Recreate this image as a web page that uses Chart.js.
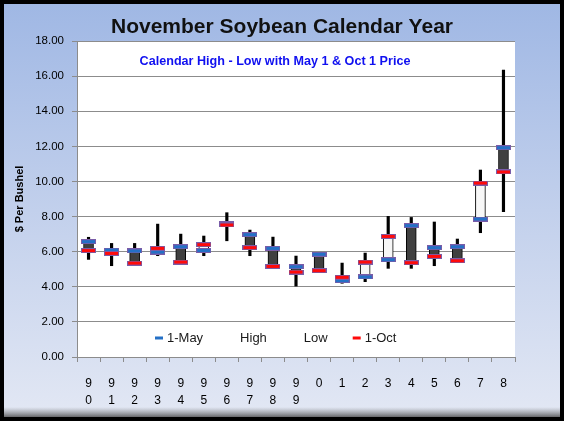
<!DOCTYPE html>
<html>
<head>
<meta charset="utf-8">
<script src="https://cdn.jsdelivr.net/npm/chart.js@4.4.0/dist/chart.umd.min.js"></script>
<style>
  html, body { margin: 0; padding: 0; background: #ffffff; }
  #wrap { width: 564px; height: 421px; position: relative; }
  canvas { display: block; }
</style>
</head>
<body>
<div id="wrap"><canvas id="c" width="564" height="421"></canvas></div>
<script>
// ---- data ----
const years = [["9","0"],["9","1"],["9","2"],["9","3"],["9","4"],["9","5"],["9","6"],["9","7"],["9","8"],["9","9"],
               "0","1","2","3","4","5","6","7","8"];
const may1  = [6.57, 6.09, 6.04, 5.98, 6.28, 6.07, 7.58, 6.97, 6.19, 5.14, 5.85, 4.35, 4.56, 5.54, 7.48, 6.23, 6.28, 7.86, 11.92];
const high  = [6.82, 6.47, 6.47, 7.57, 7.00, 6.89, 8.22, 7.23, 6.83, 5.75, 5.85, 5.35, 5.92, 8.01, 7.95, 7.69, 6.72, 10.65, 16.34];
const low   = [5.56, 5.20, 5.35, 5.77, 5.41, 5.77, 6.62, 5.77, 5.16, 4.04, 4.92, 4.20, 4.29, 5.05, 5.05, 5.20, 5.48, 7.08, 8.28];
const oct1  = [6.06, 5.90, 5.35, 6.19, 5.41, 6.40, 7.52, 6.23, 5.16, 4.84, 4.92, 4.54, 5.41, 6.87, 5.37, 5.73, 5.48, 9.91, 10.54];
const yTicks = [0, 2, 4, 6, 8, 10, 12, 14, 16, 18];

const FONT = "'Liberation Sans', Arial, sans-serif";
const BLUE = '#2470c6';
const RED = '#ff0a0a';
const EDGE = '#7a5ca8';

function markerImage(fill, h) {
  const c = document.createElement('canvas');
  c.width = 15; c.height = h;
  const x = c.getContext('2d');
  x.fillStyle = EDGE;
  x.fillRect(0, 0, 15, h);
  x.fillStyle = fill;
  x.fillRect(1, 1, 13, h - 2);
  return c;
}
const mayMark = markerImage(BLUE, 5);
const octMark = markerImage(RED, 5);

const boxData = may1.map((m, i) => [Math.min(m, oct1[i]), Math.max(m, oct1[i])]);
const boxFill = may1.map((m, i) => (m >= oct1[i] ? '#404040' : '#f7f7f7'));
const rangeData = high.map((h, i) => [low[i], h]);

const bgPlugin = {
  id: 'bg',
  beforeDraw(chart) {
    const ctx = chart.ctx, W = chart.width, H = chart.height;
    ctx.save();
    const g = ctx.createLinearGradient(0, 0, 0, H);
    g.addColorStop(0, '#9fb7e4');
    g.addColorStop(0.5, '#c2d0ec');
    g.addColorStop(1, '#e3e8f4');
    ctx.fillStyle = g;
    ctx.fillRect(0, 0, W, H);
    const s = ctx.createLinearGradient(0, H - 14, 0, H - 3);
    s.addColorStop(0, 'rgba(120,120,120,0)');
    s.addColorStop(1, 'rgba(60,60,60,0.85)');
    ctx.fillStyle = s;
    ctx.fillRect(0, H - 14, W, 11);
    const a = chart.chartArea;
    ctx.fillStyle = '#ffffff';
    ctx.fillRect(a.left, a.top, a.right - a.left, a.bottom - a.top);
    ctx.restore();
  },
  afterDraw(chart) {
    const ctx = chart.ctx, W = chart.width, H = chart.height;
    ctx.save();
    ctx.strokeStyle = '#000';
    ctx.lineWidth = 4;
    ctx.strokeRect(2, 2, W - 4, H - 4);
    // subtitle inside plot
    ctx.font = 'bold 12.6px ' + FONT;
    ctx.fillStyle = '#1010f0';
    ctx.textAlign = 'center';
    ctx.textBaseline = 'middle';
    ctx.fillText('Calendar High - Low with May 1 & Oct 1 Price', 275, 62);
    // legend inside plot
    const items = [
      { t: '1-May', c: BLUE }, { t: 'High', c: null }, { t: 'Low', c: null }, { t: '1-Oct', c: RED }
    ];
    ctx.font = '13px ' + FONT;
    ctx.textAlign = 'left';
    let x = 155;
    const y = 338;
    items.forEach(it => {
      if (it.c) { ctx.fillStyle = it.c; ctx.fillRect(x, y - 1.5, 8, 3); }
      ctx.fillStyle = '#1a1a1a';
      ctx.fillText(it.t, x + 12, y);
      x += 12 + ctx.measureText(it.t).width + 25;
    });
    ctx.restore();
  }
};

new Chart(document.getElementById('c'), {
  type: 'bar',
  data: {
    labels: years,
    datasets: [
      { label: '1-Oct', type: 'line', data: oct1, showLine: false, pointStyle: octMark, pointRadius: 7, order: 0 },
      { label: '1-May', type: 'line', data: may1, showLine: false, pointStyle: mayMark, pointRadius: 7, order: 1 },
      { label: 'May-Oct', data: boxData, backgroundColor: boxFill, borderColor: '#000', borderWidth: 1,
        borderSkipped: false, barThickness: 10, grouped: false, order: 2 },
      { label: 'High-Low', data: rangeData, backgroundColor: '#000', borderWidth: 0,
        barThickness: 2.5, grouped: false, order: 3 }
    ]
  },
  options: {
    responsive: false,
    animation: false,
    layout: { padding: 0 },
    plugins: {
      legend: { display: false },
      tooltip: { enabled: false },
      title: {
        display: true,
        text: 'November Soybean Calendar Year',
        color: '#111',
        font: { family: FONT, size: 21, weight: 'bold', lineHeight: 1.2 },
        padding: { top: 15, bottom: 0.8 }
      }
    },
    scales: {
      x: {
        offset: true,
        grid: { display: true, drawOnChartArea: false, offset: true, color: '#8c8c8c', tickLength: 5 },
        border: { color: '#8c8c8c', width: 1 },
        ticks: { color: '#000', font: { family: FONT, size: 12, lineHeight: 1.4 }, padding: 13, maxRotation: 0, autoSkip: false },
        afterFit(s) { s.height = 64; }
      },
      y: {
        min: 0, max: 18,
        afterBuildTicks(s) { s.ticks = yTicks.map(v => ({ value: v })); },
        grid: { color: '#8c8c8c', lineWidth: 1, tickLength: 5 },
        border: { color: '#8c8c8c', width: 1 },
        ticks: { color: '#000', font: { family: FONT, size: 11.5 }, padding: 8,
                 callback: v => Number(v).toFixed(2) },
        title: { display: true, text: '$ Per Bushel', color: '#000',
                 font: { family: FONT, size: 11, weight: 'bold' }, padding: { top: 13, bottom: 0 } },
        afterFit(s) { s.width = 77; }
      },
      yRight: {
        position: 'right',
        min: 0, max: 18,
        display: true,
        grid: { display: false },
        border: { display: false },
        ticks: { display: false },
        afterFit(s) { s.width = 49; }
      }
    }
  },
  plugins: [bgPlugin]
});
</script>
</body>
</html>
